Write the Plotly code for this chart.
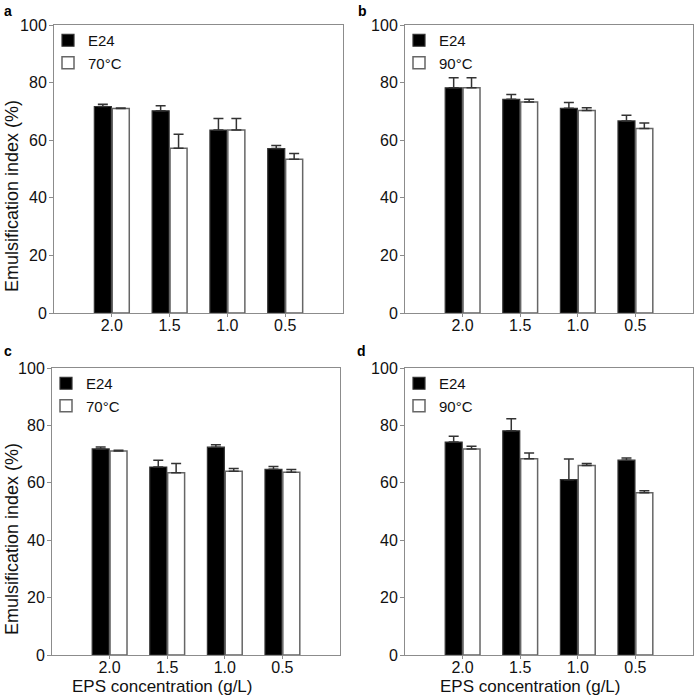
import plotly.graph_objects as go

categories = ["2.0", "1.5", "1.0", "0.5"]
positions = [1, 2, 3, 4]

a_e24 = [71.7, 70.2, 63.5, 57.1]
a_e24_err = [0.8, 1.8, 4.0, 1.1]
a_70 = [71.0, 57.2, 63.5, 53.4]
a_70_err = [0.2, 4.9, 4.0, 2.0]

b_e24 = [78.2, 74.2, 71.1, 66.7]
b_e24_err = [3.5, 1.7, 2.0, 2.0]
b_90 = [78.2, 73.3, 70.3, 64.1]
b_90_err = [3.5, 0.9, 1.0, 1.9]

c_e24 = [71.8, 65.5, 72.4, 64.7]
c_e24_err = [0.7, 2.4, 0.9, 1.0]
c_70 = [71.1, 63.5, 64.0, 63.7]
c_70_err = [0.2, 3.2, 1.0, 0.9]

d_e24 = [74.2, 78.1, 61.1, 67.9]
d_e24_err = [2.0, 4.2, 7.2, 0.7]
d_90 = [71.8, 68.4, 66.0, 56.5]
d_90_err = [0.9, 2.0, 0.7, 0.7]

panels = [
    ("a", "x", "y", "legend", a_e24, a_e24_err, "70°C", a_70, a_70_err),
    ("b", "x2", "y2", "legend2", b_e24, b_e24_err, "90°C", b_90, b_90_err),
    ("c", "x3", "y3", "legend3", c_e24, c_e24_err, "70°C", c_70, c_70_err),
    ("d", "x4", "y4", "legend4", d_e24, d_e24_err, "90°C", d_90, d_90_err),
]

FONT = "Liberation Sans, Arial, sans-serif"
W, H = 697, 696

fig = go.Figure()
for label, xa, ya, lg, e24, e24err, tname, tvals, terr in panels:
    fig.add_trace(go.Bar(
        x=positions, y=e24, name="E24", xaxis=xa, yaxis=ya, legend=lg,
        marker=dict(color="#000000", line=dict(color="#333333", width=1.2)),
        error_y=dict(type="data", symmetric=False, array=e24err,
                     arrayminus=[0] * len(e24err), color="#333333",
                     thickness=1.5, width=5),
    ))
    fig.add_trace(go.Bar(
        x=positions, y=tvals, name=tname, xaxis=xa, yaxis=ya, legend=lg,
        marker=dict(color="#ffffff", line=dict(color="#666666", width=1.5)),
        error_y=dict(type="data", symmetric=False, array=terr,
                     arrayminus=[0] * len(terr), color="#333333",
                     thickness=1.5, width=5),
    ))

def px_x(p):
    return p / W

def px_y(p):
    return 1 - p / H

boxes = {
    "a": (54, 343, 25, 313),
    "b": (405, 693, 25, 313),
    "c": (52, 340, 368, 655),
    "d": (405, 693, 368, 655),
}

axis_common = dict(
    showline=True, linecolor="#8c8c8c", linewidth=1, mirror=True,
    ticks="outside", ticklen=4, tickcolor="#8c8c8c", showgrid=False,
    zeroline=False, automargin=False,
    tickfont=dict(family=FONT, size=16, color="#111111"),
)

layout = dict(
    template="none",
    width=W, height=H, margin=dict(l=0, r=0, t=0, b=0, autoexpand=False),
    paper_bgcolor="white", plot_bgcolor="white",
    barmode="group", bargap=0.38, bargroupgap=0.05,
    font=dict(family=FONT, color="#111111"),
    annotations=[], showlegend=True,
)

suffix = {"a": "", "b": "2", "c": "3", "d": "4"}
letters_pos = {"a": (2, 1), "b": (356, 1), "c": (2, 341), "d": (355, 341)}
for key, (x0, x1, y0, y1) in boxes.items():
    s = suffix[key]
    layout["xaxis" + s] = dict(
        axis_common, domain=[px_x(x0), px_x(x1)], range=[0, 5],
        tickmode="array", tickvals=positions, ticktext=categories,
        anchor="y" + s, ticklen=3, ticklabelstandoff=-5,
    )
    layout["yaxis" + s] = dict(
        axis_common, domain=[px_y(y1), px_y(y0)], range=[0, 100],
        dtick=20, anchor="x" + s, ticklabelstandoff=-1,
    )
    layout["legend" + s] = dict(
        x=px_x(x0 - 6), y=px_y(y0 - 1), xanchor="left", yanchor="top",
        bgcolor="rgba(0,0,0,0)", borderwidth=0,
        font=dict(family=FONT, size=15, color="#111111"),
        tracegroupgap=0, itemclick=False,
    )
    lx, ly = letters_pos[key]
    layout["annotations"].append(dict(
        text="<b>%s</b>" % key, x=px_x(lx), y=px_y(ly), xref="paper", yref="paper",
        xanchor="left", yanchor="top", showarrow=False,
        font=dict(family=FONT, size=14, color="#000000"),
    ))

# y-axis titles
for key, yc in (("a", 196), ("c", 539)):
    layout["annotations"].append(dict(
        text="Emulsification index (%)", x=px_x(12), y=px_y(yc),
        xref="paper", yref="paper", xanchor="center", yanchor="middle",
        textangle=-90, showarrow=False,
        font=dict(family=FONT, size=18, color="#111111"),
    ))
# x-axis titles
for xc in (162, 530):
    layout["annotations"].append(dict(
        text="EPS concentration (g/L)", x=px_x(xc), y=px_y(686),
        xref="paper", yref="paper", xanchor="center", yanchor="middle",
        showarrow=False, font=dict(family=FONT, size=17, color="#111111"),
    ))

fig.update_layout(**layout)
fig.write_html(
    "out.html",
    config={"displayModeBar": False},
    post_script="document.body.style.margin='0';document.body.style.overflow='hidden';",
)
